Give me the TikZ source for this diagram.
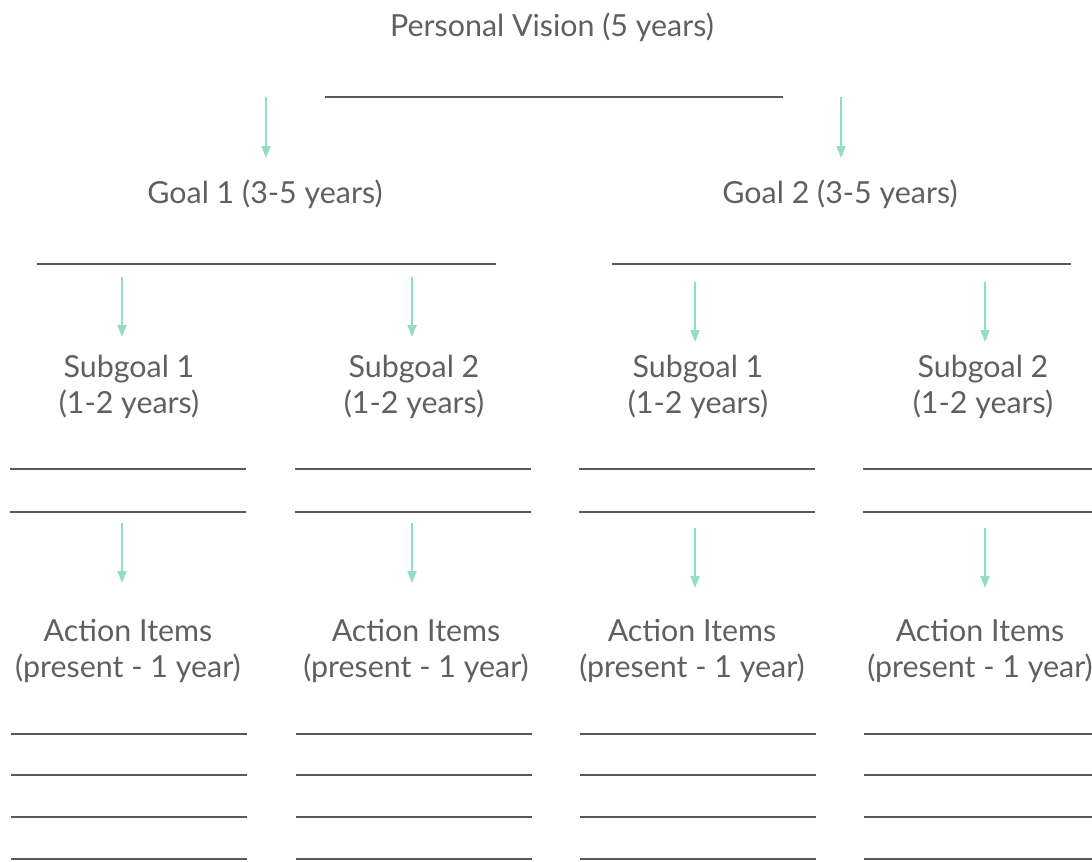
\documentclass[tikz,border=0pt]{standalone}
\usepackage{fontspec}
\setmainfont{Lato}
\usetikzlibrary{arrows.meta}
\definecolor{mymint}{HTML}{93DCC6}
\definecolor{mygray}{HTML}{595959}
\definecolor{mytext}{HTML}{606060}

\begin{document}
\begin{tikzpicture}[x=0.75pt,y=-0.75pt,
    lbl/.style={text=mytext, font=\fontsize{22.8}{27}\selectfont, align=center, inner sep=0pt},
    rule/.style={draw=mygray, line width=1.5pt},
    arr/.style={draw=mymint, line width=1.5pt, -{Triangle[width=6.75pt,length=9pt]}}]
        \useasboundingbox (0,0) rectangle (1092,861);

            % top level
            \node[lbl] (V) at (552,27) {Personal Vision (5 years)};
            \draw[rule] (325,97) -- (783,97);
            \coordinate (v1) at (266,97);
            \coordinate (v2) at (841,97);
            \coordinate (g1) at (266,158);
            \coordinate (g2) at (841,158);

            % goals
            \node[lbl] (G1) at (265,194) {Goal 1 (3-5 years)};
            \node[lbl] (G2) at (840,194) {Goal 2 (3-5 years)};
            \draw[arr] (v1) -- (g1);
            \draw[arr] (v2) -- (g2);
            \draw[rule] (37,264) -- (496,264);
            \draw[rule] (612,264) -- (1071,264);

            % subgoals and action items, one column each
            \foreach \i/\xa/\xs/\xt/\xl/\dy in {1/122/129/128/10/0, 2/412/414/416/295/0, 3/695/698/692/579/5, 4/985/983/980/863/5} {
                \node[lbl] (S\i) at (\xs,386.5) {Subgoal \ifnum\i>2 \the\numexpr\i-2\relax\else\i\fi\\(1-2 years)};
                \draw[arr] (\xa,277+\dy) coordinate (s\i a) -- (\xa,337+\dy) coordinate (s\i b);
                \draw[rule] (\xl,469) -- (\xl+236,469);
                \draw[rule] (\xl,512) -- (\xl+236,512);
                \node[lbl] (A\i) at (\xt,651) {Action Items\\(present - 1 year)};
                \draw[arr] (\xa,523+\dy) coordinate (a\i a) -- (\xa,583+\dy) coordinate (a\i b);
                \foreach \y in {734,775,817,859}
                    \draw[rule] (\xl+1,\y) -- (\xl+237,\y);
            }
        \end{tikzpicture}
\end{document}
